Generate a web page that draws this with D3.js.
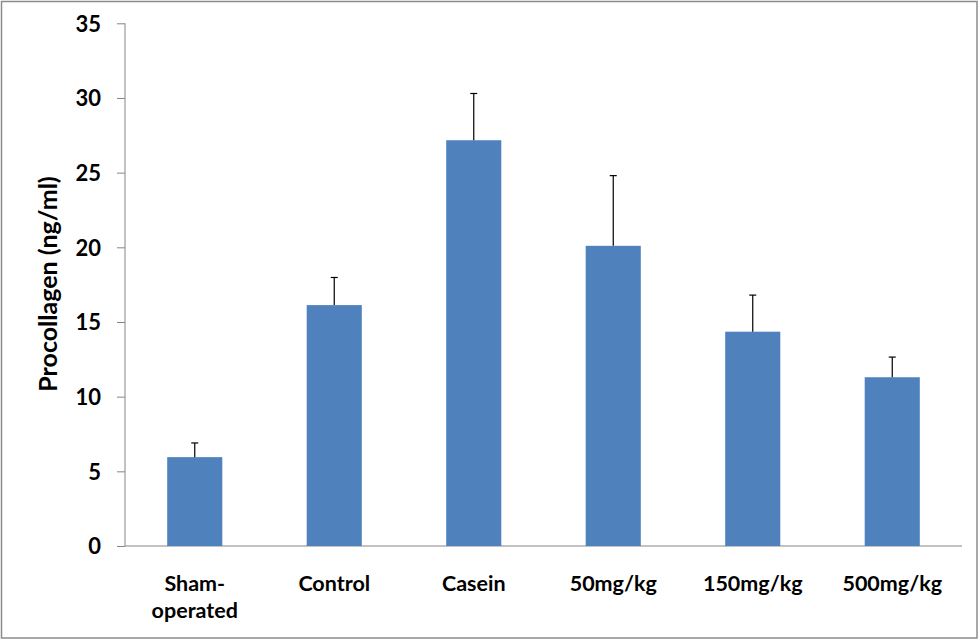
<!DOCTYPE html>
<html><head><meta charset="utf-8">
<script src="https://cdn.jsdelivr.net/npm/d3@7"></script>
<style>body{margin:0;background:#fff}svg{display:block}</style>
</head><body>
<svg id="c" width="979" height="640"></svg>
<script>
const categories = [["Sham-","operated"],["Control"],["Casein"],["50mg/kg"],["150mg/kg"],["500mg/kg"]];
const values = [5.95, 16.13, 27.17, 20.1, 14.35, 11.3];
const errors = [0.95, 1.85, 3.13, 4.7, 2.45, 1.35];
const yTicks = [0,5,10,15,20,25,30,35];
const yLabel = "Procollagen (ng/ml)";

const svg = d3.select("#c");
const font = "Lato, 'Open Sans', sans-serif";
svg.append("rect").attr("x",1.5).attr("y",1.5).attr("width",975.5).attr("height",636.5)
  .attr("fill","#fff").attr("stroke","#8c8c8c").attr("stroke-width",1.5);

const L=125, R=962, T=23.3, B=546;
const x = d3.scaleBand().domain(categories.map((d,i)=>i)).range([L,R]).paddingInner(0.605).paddingOuter(0.3025);
const y = d3.scaleLinear().domain([0,35]).range([B,T]);

const yAxis = svg.append("g").attr("transform",`translate(${L},0)`)
  .call(d3.axisLeft(y).tickValues(yTicks).tickSize(8).tickPadding(16).tickFormat(d3.format("d")));
yAxis.select(".domain").attr("stroke","#868686").attr("d",`M0,${T}V${B}`);
yAxis.selectAll(".tick line").attr("stroke","#868686");
yAxis.selectAll(".tick text").attr("font-family",font).attr("font-size",22).attr("font-weight",700).attr("fill","#000").attr("dy","0.36em");

svg.append("line").attr("x1",L).attr("x2",R).attr("y1",B).attr("y2",B).attr("stroke","#868686");

const g = svg.append("g");
g.selectAll("rect.bar").data(values).join("rect").attr("class","bar")
  .attr("x",(d,i)=>x(i)).attr("width",x.bandwidth())
  .attr("y",d=>y(d)).attr("height",d=>B-y(d)).attr("fill","#4F81BD");

const eb = g.selectAll("g.err").data(values).join("g").attr("class","err");
eb.append("line").attr("x1",(d,i)=>x(i)+x.bandwidth()/2).attr("x2",(d,i)=>x(i)+x.bandwidth()/2)
  .attr("y1",d=>y(d)).attr("y2",(d,i)=>y(d+errors[i])).attr("stroke","#000").attr("stroke-width",1.2);
eb.append("line").attr("x1",(d,i)=>x(i)+x.bandwidth()/2-3.5).attr("x2",(d,i)=>x(i)+x.bandwidth()/2+3.5)
  .attr("y1",(d,i)=>y(d+errors[i])).attr("y2",(d,i)=>y(d+errors[i])).attr("stroke","#000").attr("stroke-width",1.2);

const cl = svg.selectAll("text.cat").data(categories).join("text").attr("class","cat")
  .attr("font-family",font).attr("font-size",21.5).attr("font-weight",700).attr("text-anchor","middle")
  .attr("x",(d,i)=>x(i)+x.bandwidth()/2).attr("y",591);
cl.selectAll("tspan").data(d=>d).join("tspan").attr("x",function(){return this.parentNode.getAttribute("x");})
  .attr("dy",(d,i)=>i?27:0).text(d=>d);

svg.append("text").attr("transform","translate(57,284) rotate(-90)").attr("text-anchor","middle")
  .attr("font-family",font).attr("font-size",25).attr("font-weight",700).text(yLabel);
</script>
</body></html>
